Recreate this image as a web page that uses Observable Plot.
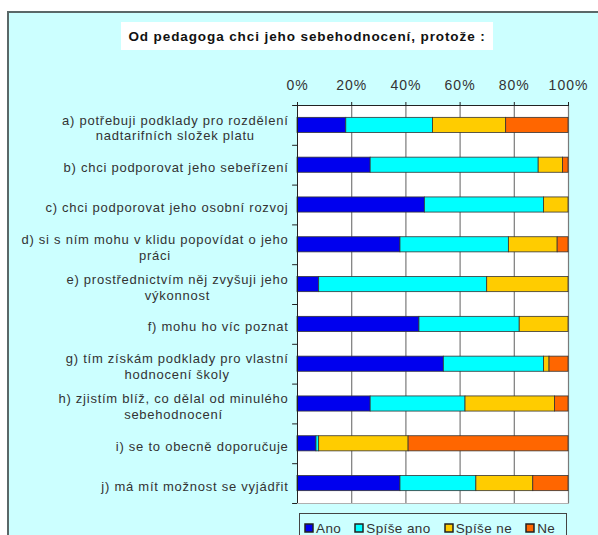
<!DOCTYPE html>
<html>
<head>
<meta charset="utf-8">
<script src="https://cdn.jsdelivr.net/npm/d3@7"></script>
<script src="https://cdn.jsdelivr.net/npm/@observablehq/plot@0.6"></script>
<style>
  html, body { margin: 0; padding: 0; background: #ffffff; }
  #page { position: relative; width: 598px; height: 535px; overflow: hidden; font-family: "Liberation Sans", Arial, sans-serif; }
  #bg { position: absolute; left: 7px; top: 11px; right: -5px; bottom: -5px; background: #ccffff; border-top: 2px solid #5a6868; border-left: 2px solid #5a6868; }
  #title { position: absolute; left: 121px; top: 22px; width: 372px; height: 28px; line-height: 30px; background: #ffffff; text-align: center; font-weight: bold; font-size: 13.5px; color: #111; letter-spacing: 0.9px; }
  #chart { position: absolute; left: 0; top: 0; }
  #chart g[aria-label="text"] text { letter-spacing: 0.75px; }
  #chart g[aria-label="x-axis tick label"] text { letter-spacing: 1px; }
  #legend { position: absolute; left: 299px; top: 513px; width: 268px; height: 30px; border: 1px solid #444; box-sizing: border-box; padding: 0 0 0 5px; overflow: hidden; }
  #legend .lg-swatches { min-height: 28px !important; height: 28px; margin: 0 !important; font-family: "Liberation Sans", Arial, sans-serif !important; font-size: 13.5px !important; color: #333; letter-spacing: 0.4px; display: flex; align-items: center; flex-wrap: nowrap; white-space: nowrap; }
  #legend .lg-swatch { margin-right: 14px !important; display: inline-flex; align-items: center; flex-shrink: 0; white-space: nowrap; }
  #legend .lg-swatch svg { margin-right: 3px !important; flex-shrink: 0; }
  #legend .lg-swatch svg rect { stroke: #222; stroke-width: 1.5px; }
</style>
</head>
<body>
<div id="page">
  <div id="bg"></div>
  <div id="title">Od pedagoga chci jeho sebehodnocení, protože :</div>
  <div id="chart"></div>
  <div id="legend"></div>
</div>
<script>
const categories = ["a", "b", "c", "d", "e", "f", "g", "h", "i", "j"];
const categoryLabels = [
  "a) potřebuji podklady pro rozdělení\nnadtarifních složek platu",
  "b) chci podporovat jeho sebeřízení",
  "c) chci podporovat jeho osobní rozvoj",
  "d) si s ním mohu v klidu popovídat o jeho\npráci",
  "e) prostřednictvím něj zvyšuji jeho\nvýkonnost",
  "f) mohu ho víc poznat",
  "g) tím získám podklady pro vlastní\nhodnocení školy",
  "h) zjistím blíž, co dělal od minulého\nsebehodnocení",
  "i) se to obecně doporučuje",
  "j) má mít možnost se vyjádřit"
];
const series = ["Ano", "Spíše ano", "Spíše ne", "Ne"];
const colors = ["#0000ee", "#00ffff", "#ffcc00", "#ff6600"];
const ano      = [18, 27, 47, 38,  8, 45, 54, 27,  7, 38];
const spiseAno = [32, 62, 44, 40, 62, 37, 37, 35,  1, 28];
const spiseNe  = [27,  9,  9, 18, 30, 18,  2, 33, 33, 21];
const ne       = [23,  2,  0,  4,  0,  0,  7,  5, 59, 13];
const xTicks = [0, 20, 40, 60, 80, 100];

const seriesValues = [ano, spiseAno, spiseNe, ne];
const data = [];
categories.forEach((c, i) => {
  series.forEach((s, k) => {
    const v = seriesValues[k][i];
    if (v > 0) data.push({cat: c, series: s, value: v});
  });
});
const labelOf = new Map(categories.map((c, i) => [c, categoryLabels[i]]));

const W = 598, H = 510, mTop = 105, mBottom = 7, mLeft = 297, mRight = 30;
const step = (H - mTop - mBottom) / categories.length;

const plot = Plot.plot({
  width: W,
  height: H,
  marginTop: mTop,
  marginBottom: mBottom,
  marginLeft: mLeft,
  marginRight: mRight,
  style: {fontFamily: "Liberation Sans, Arial, sans-serif", fontSize: "13px", color: "#333", background: "transparent", overflow: "visible"},
  x: {domain: [0, 100], axis: null, label: null},
  y: {domain: categories, paddingInner: 0.62, paddingOuter: 0.31, round: false, axis: null},
  color: {domain: series, range: colors},
  marks: [
    Plot.frame({fill: "#ffffff", stroke: "#b0b0b0"}),
    Plot.ruleX(xTicks.filter(d => d > 0), {stroke: "#7a7a7a", strokeWidth: 1.2}),
    Plot.barX(data, {x: "value", y: "cat", fill: "series", stroke: "#333", strokeWidth: 0.8}),
    Plot.ruleX([0], {stroke: "#222", strokeWidth: 1}),
    Plot.ruleY([categories[0]], {dy: -step / 2, stroke: "#222", strokeWidth: 1}),
    Plot.ruleY(categories, {dy: -step / 2, x1: -1.8, x2: 0, stroke: "#222"}),
    Plot.ruleY([categories[categories.length - 1]], {dy: step / 2, x1: -1.8, x2: 0, stroke: "#222"}),
    Plot.axisX({anchor: "top", ticks: xTicks, tickFormat: d => d + "%", label: null, tickSize: 4, tickPadding: 12, fontSize: 14, stroke: "#222", fill: "#333"}),
    Plot.text(categories, {y: d => d, x: 0, text: d => labelOf.get(d), dx: -9, dy: 2, textAnchor: "end", lineHeight: 1.22, fontSize: 13, fill: "#333"})
  ]
});
document.getElementById("chart").appendChild(plot);

// center wrapped lines of each label within its own right-aligned block
plot.querySelectorAll('g[aria-label="text"] text').forEach(t => {
  const spans = t.querySelectorAll("tspan");
  if (spans.length < 2) return;
  const w = Math.max(...Array.from(spans, s => s.getComputedTextLength()));
  t.setAttribute("text-anchor", "middle");
  spans.forEach(s => s.setAttribute("x", -w / 2));
});

const lg = Plot.legend({
  color: {domain: series, range: colors},
  legend: "swatches",
  swatchSize: 8,
  className: "lg"
});
document.getElementById("legend").appendChild(lg);
</script>
</body>
</html>
